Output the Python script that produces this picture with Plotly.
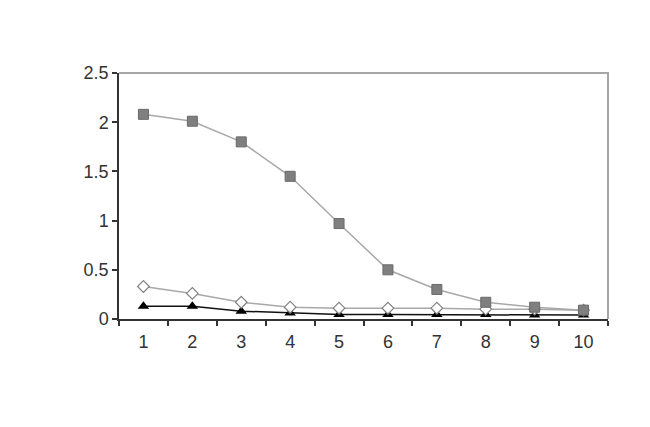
import plotly.graph_objects as go

# ── 数据 ──
x_cats = ["1", "2", "3", "4", "5", "6", "7", "8", "9", "10"]
squares = [2.08, 2.01, 1.80, 1.45, 0.97, 0.50, 0.30, 0.17, 0.12, 0.09]
diamonds = [0.33, 0.26, 0.17, 0.12, 0.11, 0.11, 0.11, 0.10, 0.10, 0.09]
triangles = [0.13, 0.13, 0.08, 0.06, 0.045, 0.045, 0.045, 0.045, 0.04, 0.04]
y_ticks = [0, 0.5, 1, 1.5, 2, 2.5]
y_labels = ["0", "0.5", "1", "1.5", "2", "2.5"]

fig = go.Figure()

fig.add_trace(go.Scatter(
    x=x_cats, y=triangles, mode="lines+markers",
    line=dict(color="#111111", width=1.5),
    marker=dict(symbol="triangle-up", size=10, color="#000000"),
))
fig.add_trace(go.Scatter(
    x=x_cats, y=diamonds, mode="lines+markers",
    line=dict(color="#a8a8a8", width=1.5),
    marker=dict(symbol="diamond", size=9, color="#ffffff",
                line=dict(color="#808080", width=1.2)),
))
fig.add_trace(go.Scatter(
    x=x_cats, y=squares, mode="lines+markers",
    line=dict(color="#a8a8a8", width=1.5),
    marker=dict(symbol="square", size=10, color="#7f7f7f",
                line=dict(color="#6a6a6a", width=1)),
))

# 顶部和右侧的灰色边框
fig.add_shape(type="path", xref="paper", yref="paper",
              path="M 0,1 L 1,1 L 1,0",
              line=dict(color="#a6a6a6", width=2))

# 页面自带 8px 边距，尺寸相应减小
fig.update_layout(
    width=642, height=419,
    paper_bgcolor="white", plot_bgcolor="white",
    font=dict(family="Liberation Sans, Arial, sans-serif", size=18, color="#333333"),
    margin=dict(l=111, r=42, t=65, b=108),
    showlegend=False,
    xaxis=dict(
        type="category",
        tickson="boundaries",
        ticks="outside", ticklen=5, tickcolor="#333333", tickwidth=1.5,
        ticklabelstandoff=6,
        showline=True, linecolor="#333333", linewidth=1.5,
        showgrid=False, zeroline=False,
        range=[-0.5, 9.5],
    ),
    yaxis=dict(
        range=[0, 2.5],
        tickvals=y_ticks, ticktext=y_labels,
        ticks="outside", ticklen=5, tickcolor="#333333", tickwidth=1.5,
        showline=True, linecolor="#333333", linewidth=1.5,
        showgrid=False, zeroline=False,
    ),
)

fig.write_html("out.html")
